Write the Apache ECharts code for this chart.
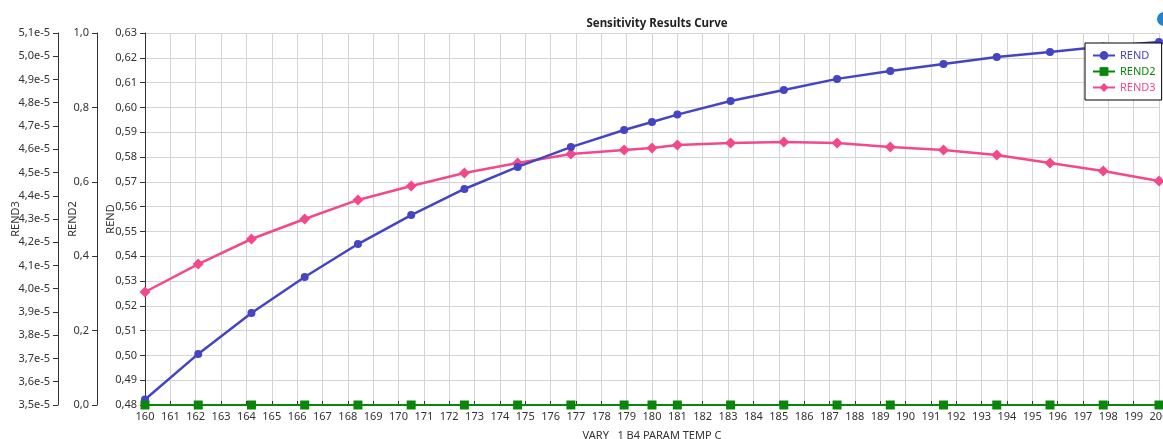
<!DOCTYPE html>
<html>
<head>
<meta charset="utf-8">
<script src="https://cdn.jsdelivr.net/npm/echarts@6/dist/echarts.min.js"></script>
<style>
html,body{margin:0;padding:0;background:#fff;}
#chart{width:1163px;height:439px;}
</style>
</head>
<body>
<div id="chart"></div>
<script>
const xValues = [160, 162.1, 164.2, 166.3, 168.4, 170.5, 172.6, 174.7, 176.8, 178.9, 180, 181, 183.1, 185.2, 187.3, 189.4, 191.5, 193.6, 195.7, 197.8, 200];
const rend = [0.4822, 0.5006, 0.5171, 0.5316, 0.5449, 0.5566, 0.5671, 0.5760, 0.5840, 0.5909, 0.5941, 0.5971, 0.6026, 0.6070, 0.6115, 0.6147, 0.6175, 0.6203, 0.6223, 0.6246, 0.6264];
const rend2 = [0, 0, 0, 0, 0, 0, 0, 0, 0, 0, 0, 0, 0, 0, 0, 0, 0, 0, 0, 0, 0];
const rend3 = [3.986e-5, 4.106e-5, 4.214e-5, 4.300e-5, 4.382e-5, 4.442e-5, 4.498e-5, 4.541e-5, 4.580e-5, 4.597e-5, 4.605e-5, 4.618e-5, 4.627e-5, 4.631e-5, 4.627e-5, 4.610e-5, 4.597e-5, 4.575e-5, 4.541e-5, 4.506e-5, 4.463e-5];
const seriesNames = ['REND', 'REND2', 'REND3'];
const titleText = 'Sensitivity Results Curve';
const xAxisName = 'VARY   1 B4 PARAM TEMP C';

const colors = ['#4444c4', '#0a870a', '#f2498c'];
const FONT = 'Noto Sans';
const comma = (s) => s.replace('.', ',');

const chart = echarts.init(document.getElementById('chart'), null, {renderer: 'canvas'});
const pairs = (ys) => xValues.map((x, i) => [x, ys[i]]);

const axisCommon = {
  axisLine: {show: true, lineStyle: {color: '#333', width: 1}},
  axisTick: {show: true, inside: false, length: 5, lineStyle: {color: '#333'}},
  nameLocation: 'middle',
  nameMoveOverlap: false,
  nameTextStyle: {fontFamily: FONT, fontSize: 11, color: '#333'},
};

chart.setOption({
  animation: false,
  backgroundColor: '#fff',
  title: {
    text: titleText,
    left: 652, textAlign: 'center', top: 13,
    textStyle: {fontFamily: FONT, fontSize: 11.5, fontWeight: 'bold', color: '#222'}
  },
  legend: {
    orient: 'vertical',
    left: 1085, top: 43,
    padding: [7, 6, 7, 7],
    itemGap: 5,
    itemWidth: 22, itemHeight: 11,
    borderColor: '#000', borderWidth: 1,
    backgroundColor: '#fff',
    textStyle: {fontFamily: FONT, fontSize: 11},
    data: seriesNames.map((n, i) => ({name: n, textStyle: {color: colors[i]}}))
  },
  grid: {left: 145, right: 4, top: 33, bottom: 34, containLabel: false, outerBoundsMode: 'none'},
  xAxis: {
    type: 'value', min: 160, max: 200, interval: 1,
    name: xAxisName, nameLocation: 'middle', nameGap: 25, nameMoveOverlap: false,
    nameTextStyle: {fontFamily: FONT, fontSize: 11, color: '#333'},
    axisLine: {show: true, lineStyle: {color: '#333'}},
    axisTick: {show: true, inside: true, length: 4, lineStyle: {color: '#333'}},
    axisLabel: {fontFamily: FONT, fontSize: 11, color: '#333', margin: 6, hideOverlap: false, showMaxLabel: true, showMinLabel: true},
    splitLine: {show: true, lineStyle: {color: '#d4d4d4', width: 1}}
  },
  yAxis: [
    Object.assign({}, axisCommon, {
      type: 'value', position: 'left', offset: 0,
      min: 0.48, max: 0.63, interval: 0.01,
      name: 'REND', nameGap: 29,
      axisLabel: {fontFamily: FONT, fontSize: 11, color: '#333', margin: 8, formatter: v => comma(v.toFixed(2))},
      splitLine: {show: true, lineStyle: {color: '#d4d4d4', width: 1}}
    }),
    Object.assign({}, axisCommon, {
      type: 'value', position: 'left', offset: 48,
      min: 0, max: 1, interval: 0.2,
      name: 'REND2', nameGap: 19,
      axisLabel: {fontFamily: FONT, fontSize: 11, color: '#333', margin: 8, formatter: v => comma(v.toFixed(1))},
      splitLine: {show: false}
    }),
    Object.assign({}, axisCommon, {
      type: 'value', position: 'left', offset: 87,
      min: 3.5e-5, max: 5.1e-5, interval: 1e-6,
      name: 'REND3', nameGap: 37,
      axisLabel: {fontFamily: FONT, fontSize: 11, color: '#333', margin: 8, formatter: v => comma((v * 1e5).toFixed(1)) + 'e-5'},
      splitLine: {show: false}
    })
  ],
  series: [
    {
      name: seriesNames[0], type: 'line', yAxisIndex: 0, data: pairs(rend),
      color: colors[0], symbol: 'circle', symbolSize: 8,
      lineStyle: {width: 2.5, color: colors[0]}, itemStyle: {color: colors[0]}, z: 3
    },
    {
      name: seriesNames[1], type: 'line', yAxisIndex: 1, data: pairs(rend2),
      color: colors[1], symbol: 'rect', symbolSize: 9,
      lineStyle: {width: 2, color: colors[1]}, itemStyle: {color: colors[1]}, z: 4
    },
    {
      name: seriesNames[2], type: 'line', yAxisIndex: 2, data: pairs(rend3),
      color: colors[2], symbol: 'diamond', symbolSize: 11,
      lineStyle: {width: 2.5, color: colors[2]}, itemStyle: {color: colors[2]}, z: 2
    }
  ],
  graphic: [
    {type: 'circle', shape: {cx: 1164, cy: 19, r: 7}, style: {fill: '#1f84d2'}, z: 10}
  ]
});
</script>
</body>
</html>
